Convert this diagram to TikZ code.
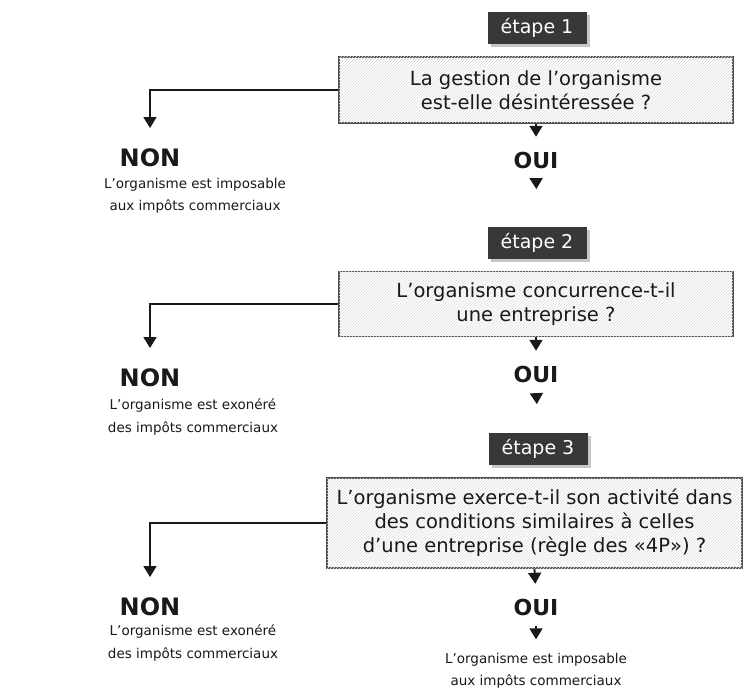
\documentclass[tikz,border=0pt]{standalone}
\usepackage{fontspec}
\setmainfont{DejaVu Sans}
\usetikzlibrary{arrows.meta,patterns,shadows}

\begin{document}
\begin{tikzpicture}[x=1pt,y=-1pt,line width=1.8pt,draw=black!90,
    >={Triangle[width=13pt,length=11pt]}]
    \tikzstyle{every node}=[inner sep=0pt, text=black!90]
    \tikzstyle{etape}=[fill=black!78, text=white, minimum width=99pt, minimum height=32pt,
        font=\fontsize{19}{22}\selectfont,
        drop shadow={shadow xshift=3pt, shadow yshift=-3pt, fill=black!22, opacity=1}]
    \tikzstyle{question}=[draw=black!70, line width=1.6pt, fill=white, align=center, inner sep=3pt,
        postaction={pattern=north east lines, pattern color=black!13},
        font=\fontsize{19.5}{24}\selectfont]
    \tikzstyle{oui}=[font=\fontsize{22}{24}\bfseries\selectfont]
    \tikzstyle{non}=[font=\fontsize{24}{26}\bfseries\selectfont]
    \tikzstyle{result}=[align=center, font=\fontsize{13.5}{22.5}\selectfont]
    \tikzstyle{flow}=[->, shorten >=1pt]

    \useasboundingbox (0,0) rectangle (744,692);

    % Step 1
    \node[etape] (E-1) at (537,28) {étape 1};
    \node[question, minimum width=394pt, minimum height=66pt] (Q-1) at (536,90)
        {La gestion de l'organisme\\est-elle désintéressée ?};
    \node[oui] (O-1) at (536,160) {OUI};
    \node[non] (N-1) at (150,158) {NON};
    \node[result] (R-1) at (195,196) {L'organisme est imposable\\aux impôts commerciaux};

    % Step 2
    \node[etape] (E-2) at (537,243) {étape 2};
    \node[question, minimum width=394pt, minimum height=65pt] (Q-2) at (536,304)
        {L'organisme concurrence-t-il\\une entreprise ?};
    \node[oui] (O-2) at (536,374) {OUI};
    \node[non] (N-2) at (150,378) {NON};
    \node[result] (R-2) at (193,417) {L'organisme est exonéré\\des impôts commerciaux};

    % Step 3
    \node[etape] (E-3) at (538,449) {étape 3};
    \node[question, minimum width=415pt, minimum height=90pt, inner sep=1pt] (Q-3) at (534.5,523)
        {L'organisme exerce-t-il son activité dans\\des conditions similaires à celles\\d'une entreprise (règle des «4P») ?};
    \node[oui] (O-3) at (536,607) {OUI};
    \node[non] (N-3) at (150,607) {NON};
    \node[result] (R-3) at (193,643) {L'organisme est exonéré\\des impôts commerciaux};
    \node[result] (R-4) at (536,671) {L'organisme est imposable\\aux impôts commerciaux};

    % NON branches
    \foreach \i in {1,...,3}
        \draw[flow, shorten >=20pt] (Q-\i.west) -| (N-\i.north);

    % OUI branches
    \foreach \i in {1,...,3}
        \draw[flow, shorten >=14pt] (Q-\i.south) -- (O-\i.north);
    \draw[flow, shorten <=11pt, shorten >=37pt] (O-1.south) -- (E-2.north);
    \draw[flow, shorten <=11pt, shorten >=28pt] (O-2.south) -- (E-3.north);
    \draw[flow, shorten <=10pt, shorten >=13pt] (O-3.south) -- (R-4.north);

\end{tikzpicture}
\end{document}
